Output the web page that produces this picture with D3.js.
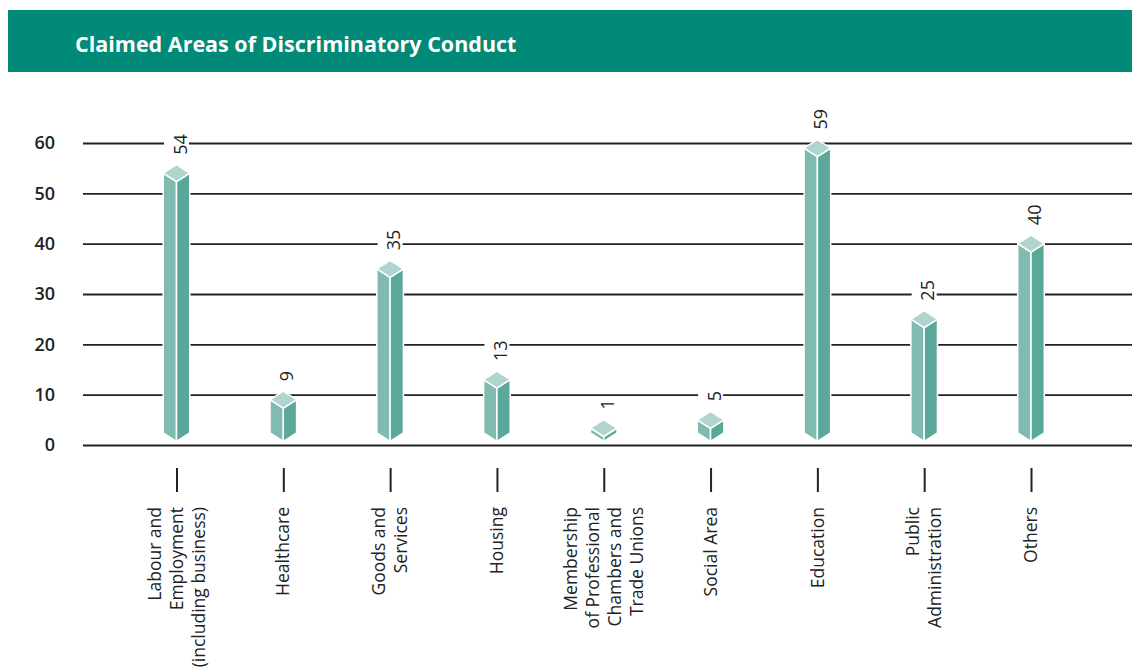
<!DOCTYPE html>
<html>
<head>
<meta charset="utf-8">
<script src="https://cdn.jsdelivr.net/npm/d3@7"></script>
<style>
  html, body { margin: 0; padding: 0; background: #fff; }
  svg { display: block; }
</style>
</head>
<body>
<svg id="chart" width="1132" height="669"></svg>
<script>
// Areas of claimed discriminatory conduct and number of claims
const categories = [
  "Labour and Employment (including business)",
  "Healthcare",
  "Goods and Services",
  "Housing",
  "Membership of Professional Chambers and Trade Unions",
  "Social Area",
  "Education",
  "Public Administration",
  "Others"
];
const categoryLines = [
  ["Labour and", "Employment", "(including business)"],
  ["Healthcare"],
  ["Goods and", "Services"],
  ["Housing"],
  ["Membership", "of Professional", "Chambers and", "Trade Unions"],
  ["Social Area"],
  ["Education"],
  ["Public", "Administration"],
  ["Others"]
];
const claims = [54, 9, 35, 13, 1, 5, 59, 25, 40];
const yTicks = [0, 10, 20, 30, 40, 50, 60];
const title = "Claimed Areas of Discriminatory Conduct";

const W = 1132, H = 669;
const svg = d3.select("#chart");
const font = "'Open Sans', 'Noto Sans', sans-serif";
const ink = "#222";

// Header band
svg.append("rect")
  .attr("x", 8).attr("y", 10).attr("width", W - 8).attr("height", 62)
  .attr("fill", "#008a77");
svg.append("text")
  .attr("x", 75).attr("y", 52)
  .attr("fill", "#fff")
  .attr("font-family", font)
  .attr("font-weight", 700)
  .attr("font-size", 21.5)
  .text(title);

// Scales
const gridLeft = 83;
const y = d3.scaleLinear().domain([0, 60]).range([445, 143]);
const x = d3.scalePoint().domain(categories).range([176.5, 1031]);

// Value axis with full-width gridlines
const yAxis = svg.append("g")
  .attr("transform", `translate(${gridLeft},0)`)
  .call(d3.axisLeft(y).tickValues(yTicks).tickSize(-(W - gridLeft)).tickPadding(28));
yAxis.select(".domain").remove();
yAxis.selectAll(".tick line").attr("stroke", ink).attr("stroke-width", 1.8);
yAxis.selectAll(".tick text")
  .attr("fill", ink)
  .attr("font-family", font)
  .attr("font-weight", 600)
  .attr("font-size", 18);

// Category axis: short vertical ticks with rotated multi-line labels
const xAxis = svg.append("g")
  .attr("transform", "translate(0,468)")
  .call(d3.axisBottom(x).tickSize(24).tickFormat(""));
xAxis.select(".domain").remove();
xAxis.selectAll(".tick line").attr("stroke", ink).attr("stroke-width", 2);

const lineH = 22;
const catLabels = svg.append("g");
categories.forEach((c, i) => {
  const lines = categoryLines[i];
  const t = catLabels.append("text")
    .attr("transform", `translate(${x(c)},507) rotate(-90)`)
    .attr("text-anchor", "end")
    .attr("fill", ink)
    .attr("font-family", font)
    .attr("font-size", 17.5);
  lines.forEach((ln, j) => {
    t.append("tspan")
      .attr("x", 0)
      .attr("y", (j - (lines.length - 1) / 2) * lineH)
      .attr("dy", "0.35em")
      .text(ln);
  });
});

// Prism bars
const hw = 13.3;      // half width of the prism
const iso = 8.5;      // vertical offset of the top/bottom diamond
const base = y(0) - 12;
const minSide = 5;
const colLeft = "#80bab0", colRight = "#59a89a", colTop = "#b0d5ce";

const bars = svg.append("g");
const labelLayer = svg.append("g");

categories.forEach((c, i) => {
  const v = claims[i];
  const cx = x(c);
  const top = Math.min(y(v), base - minSide);
  const g = bars.append("g")
    .attr("stroke", "#fff").attr("stroke-width", 1.5).attr("stroke-linejoin", "round");
  const poly = pts => "M" + pts.map(p => p.join(",")).join("L") + "Z";
  g.append("path").attr("fill", colLeft).attr("d", poly([
    [cx - hw, top], [cx, top + iso], [cx, base + iso], [cx - hw, base]
  ]));
  g.append("path").attr("fill", colRight).attr("d", poly([
    [cx, top + iso], [cx + hw, top], [cx + hw, base], [cx, base + iso]
  ]));
  g.append("path").attr("fill", colTop).attr("d", poly([
    [cx - hw, top], [cx, top - iso], [cx + hw, top], [cx, top + iso]
  ]));

  // Rotated value label on a white plate that breaks the gridlines
  const lg = labelLayer.append("g")
    .attr("transform", `translate(${cx},${top - iso - 10}) rotate(-90)`);
  const plate = lg.append("rect").attr("fill", "#fff");
  const txt = lg.append("text")
    .attr("x", 0).attr("y", 10)
    .attr("fill", ink)
    .attr("font-family", font)
    .attr("font-size", 18)
    .text(v);
  const bb = txt.node().getBBox();
  plate.attr("x", bb.x - 3).attr("y", -12.5)
    .attr("width", bb.width + 6).attr("height", 25);
});
</script>
</body>
</html>
